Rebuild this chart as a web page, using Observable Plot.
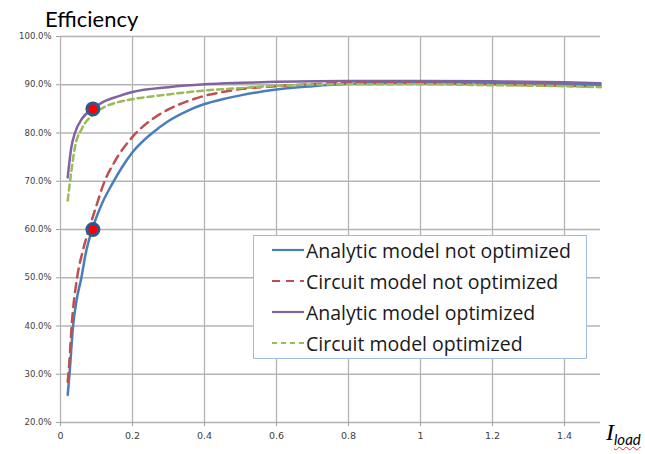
<!DOCTYPE html>
<html><head><meta charset="utf-8">
<script src="https://cdn.jsdelivr.net/npm/d3@7"></script>
<script src="https://cdn.jsdelivr.net/npm/@observablehq/plot@0.6"></script>
<style>
body{margin:0;background:#fff;width:645px;height:454px;overflow:hidden;position:relative;font-family:Lato,"Open Sans",sans-serif}
#title{height:30px;position:relative}
#title span{position:absolute;left:45px;top:5px;font-size:22px;color:#000}
#legend{position:absolute;left:253px;top:235px;width:334px;height:124px;border:1.5px solid #9dbce0;background:#fff;box-sizing:border-box}
.row{position:absolute;left:18px;height:30px;display:flex;align-items:center;font-family:"Open Sans",sans-serif;font-size:19.5px;color:#1a1a1a;white-space:nowrap}
.row svg{width:32px;height:10px;margin-right:2px}
#xlab{position:absolute;left:606px;top:419px;white-space:nowrap}
#xlab .I{font-family:"Liberation Serif",serif;font-style:italic;font-size:24px}
#xlab .sub{font-family:Lato,sans-serif;font-style:italic;font-size:15px;position:relative;top:5px;text-decoration:underline wavy #e33;text-decoration-thickness:1px}
</style></head>
<body>
<div id="title"><span>Efficiency</span></div>
<div id="chart"></div>
<div id="legend"></div>
<div id="xlab"><span class="I">I</span><span class="sub">load</span></div>
<script>
const seriesNames = ["Analytic model not optimized","Circuit model not optimized","Analytic model optimized","Circuit model optimized"];
const seriesColors = ["#4a7ebb","#c0504d","#8064a2","#9bbb59"];
const seriesDash = [null,"9,6",null,"6,4"];

const xAnalyticNotOpt = [0.02,0.025,0.035,0.045,0.058,0.07,0.088,0.116,0.144,0.17,0.2,0.25,0.3,0.35,0.4,0.45,0.5,0.6,0.7,0.8,0.9,1.0,1.1,1.2,1.3,1.4,1.5];
const yAnalyticNotOpt = [0.257,0.30,0.40,0.455,0.50,0.55,0.60,0.655,0.695,0.728,0.76,0.797,0.825,0.845,0.86,0.87,0.878,0.89,0.897,0.902,0.904,0.905,0.905,0.904,0.902,0.901,0.90];

const xCircuitNotOpt = [0.02,0.025,0.03,0.046,0.06,0.079,0.1,0.12,0.15,0.2,0.25,0.3,0.35,0.4,0.45,0.5,0.6,0.7,0.8,0.9,1.0,1.1,1.2,1.3,1.4,1.5];
const yCircuitNotOpt = [0.284,0.33,0.39,0.50,0.55,0.60,0.65,0.695,0.74,0.792,0.826,0.849,0.865,0.877,0.885,0.891,0.897,0.901,0.904,0.904,0.903,0.902,0.901,0.899,0.898,0.896];

const xAnalyticOpt = [0.02,0.03,0.04,0.06,0.09,0.12,0.16,0.2,0.3,0.4,0.5,0.6,0.8,1.0,1.2,1.4,1.5];
const yAnalyticOpt = [0.708,0.77,0.80,0.83,0.85,0.865,0.876,0.885,0.895,0.901,0.904,0.906,0.908,0.908,0.907,0.905,0.903];

const xCircuitOpt = [0.02,0.03,0.04,0.06,0.09,0.12,0.16,0.2,0.3,0.4,0.5,0.6,0.8,1.0,1.2,1.4,1.5];
const yCircuitOpt = [0.66,0.72,0.77,0.81,0.838,0.853,0.864,0.87,0.88,0.888,0.893,0.898,0.901,0.901,0.899,0.897,0.895];

const markerX = [0.09,0.09];
const markerY = [0.85,0.60];

const xTicks = [0,0.2,0.4,0.6,0.8,1,1.2,1.4];
const yTicks = [0.2,0.3,0.4,0.5,0.6,0.7,0.8,0.9,1.0];

const seriesX = [xAnalyticNotOpt,xCircuitNotOpt,xAnalyticOpt,xCircuitOpt];
const seriesY = [yAnalyticNotOpt,yCircuitNotOpt,yAnalyticOpt,yCircuitOpt];
const rows = [];
seriesX.forEach((xs,i)=>xs.forEach((x,j)=>rows.push({x,y:seriesY[i][j],s:seriesNames[i]})));
const markers = markerX.map((x,i)=>({x,y:markerY[i]}));

const lineMarks = seriesNames.map((name,i)=>Plot.line(rows.filter(d=>d.s===name),{x:"x",y:"y",stroke:seriesColors[i],strokeWidth:2.5,strokeDasharray:seriesDash[i],curve:"monotone-x"}));

const chart = Plot.plot({
  width:645,height:424,
  marginLeft:60,marginRight:45,marginTop:6,marginBottom:32,
  x:{domain:[0,1.5]},
  y:{domain:[0.2,1.0]},
  style:{fontFamily:"'DejaVu Sans',sans-serif",background:"#fff"},
  marks:[
    Plot.ruleX(xTicks,{stroke:"#b4b4b4",strokeWidth:1.3}),
    Plot.ruleY(yTicks,{stroke:"#b4b4b4",strokeWidth:1.3}),
    Plot.axisX(xTicks,{tickSize:4,stroke:"#a0a0a0",fill:"#404040",fontSize:9.5,tickPadding:6,label:null,tickFormat:d=>String(d)}),
    Plot.axisY(yTicks,{tickSize:4,stroke:"#a0a0a0",fill:"#404040",fontSize:8.5,tickPadding:5,label:null,tickFormat:d3.format(".1%")}),
    ...lineMarks,
    Plot.dot(markers,{x:"x",y:"y",r:6,fill:"#ff0000",stroke:"#2e5a8c",strokeWidth:3})
  ]
});
document.getElementById("chart").appendChild(chart);

const leg = document.getElementById("legend");
seriesNames.forEach((n,i)=>{
  const r = document.createElement("div");
  r.className="row";
  r.style.top = (-1+i*31)+"px";
  r.innerHTML = `<svg viewBox="0 0 32 10"><line x1="0" y1="5" x2="32" y2="5" stroke="${seriesColors[i]}" stroke-width="2.2" ${seriesDash[i]?`stroke-dasharray="${i===1?'8,6':'5,4'}"`:""}/></svg><span>${n}</span>`;
  leg.appendChild(r);
});
</script>
</body></html>
